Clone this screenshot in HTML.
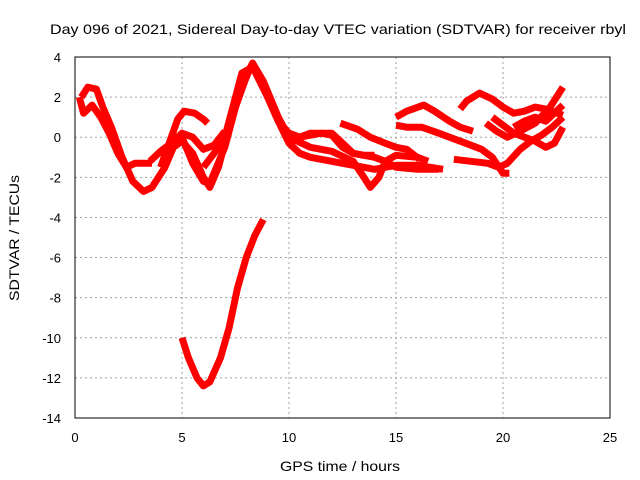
<!DOCTYPE html>
<html><head><meta charset="utf-8"><style>
body{margin:0;background:#fff;}
svg{display:block;font-family:"Liberation Sans",sans-serif;}
</style></head><body>
<svg id="chart" width="640" height="480">
<text x="338" y="34" font-size="14" text-anchor="middle" textLength="576" lengthAdjust="spacingAndGlyphs">Day 096 of 2021, Sidereal Day-to-day VTEC variation (SDTVAR) for receiver rbyl</text>
<text x="340" y="471" font-size="14" text-anchor="middle" textLength="120" lengthAdjust="spacingAndGlyphs">GPS time / hours</text>
<text transform="translate(19,238) rotate(-90)" font-size="14" text-anchor="middle" textLength="126" lengthAdjust="spacingAndGlyphs">SDTVAR / TECUs</text>
<g id="grid"></g><g id="series"></g>
<rect x="75" y="57" width="535" height="361" fill="none" stroke="#000" stroke-width="1"/>
</svg>
<script>
const xTicks=[0,5,10,15,20,25];
const yTicks=[4,2,0,-2,-4,-6,-8,-10,-12,-14];
const s1=[[0.3,2.0],[0.6,2.5],[1,2.4],[1.3,1.5],[1.7,0.5],[2.2,-1],[2.7,-2.2],[3.2,-2.7],[3.6,-2.5],[4.2,-1.5],[4.6,-0.5],[5,-0.2],[5.5,-0.8],[6,-2],[6.3,-2.5],[6.7,-1.5],[7.2,0.5],[7.7,2.2],[8.2,3.5],[8.5,3.2],[9,2],[9.5,0.8],[10,-0.3],[10.5,-0.8],[11,-1],[12,-1.2],[13,-1.4],[14,-1.6],[15,-1.4],[16,-1.4],[17.2,-1.6]];
const s2=[[0.2,2.0],[0.4,1.2],[0.8,1.6],[1.2,1.0],[1.6,0.2],[2,-0.8],[2.4,-1.5],[2.8,-1.3],[3.2,-1.3],[3.6,-1.3]];
const s3=[[3.5,-1.2],[4,-0.7],[4.5,-0.3],[5,0.2],[5.5,0],[6,-0.6],[6.5,-0.4],[7,0.3]];
const s4=[[4,-1.5],[4.5,0],[4.8,0.9],[5.1,1.3],[5.6,1.2],[6,0.9],[6.2,0.7]];
const s5=[[5,0],[5.5,-1.3],[6,-2.2],[6.3,-2.3],[7,-0.5],[7.5,1.5],[8,3],[8.3,3.7],[8.8,2.8],[9.5,1],[10,0],[11,-0.5],[12,-0.7],[13,-1.2],[13.5,-2],[13.8,-2.5],[14.2,-2],[14.5,-1.2],[15,-0.9],[16,-1],[16.5,-1.2]];
const s6=[[6,-1.5],[6.5,-0.8],[7,0],[7.5,2],[7.8,3.2],[8.3,3.5],[9,2],[9.5,0.8],[10,0.2],[10.5,0],[11,0.2],[12,0.2],[12.5,-0.3],[13,-0.8],[14,-1],[14.5,-1.2],[15,-1.5],[16,-1.6],[17,-1.6]];
const s7=[[12.4,0.7],[13.2,0.4],[13.8,0],[14.5,-0.3],[15,-0.5],[15.5,-0.6],[16.1,-1.1]];
const s8=[[10,-0.2],[10.5,0],[11,0.1],[11.5,0.2],[12,0.1],[12.5,-0.5],[13,-0.8],[13.5,-0.9],[14,-0.9]];
const s9=[[15,1.0],[15.5,1.3],[16.3,1.6],[16.8,1.3],[17.5,0.8],[18,0.5],[18.6,0.3]];
const s10=[[15,0.6],[15.5,0.5],[16.2,0.5],[17,0.2],[17.5,0],[18,-0.2],[18.5,-0.4],[19,-0.6],[19.5,-1],[20,-1.8],[20.3,-1.8]];
const s11=[[17.7,-1.1],[18.5,-1.2],[19.3,-1.3],[19.8,-1.5],[20.2,-1.3],[20.8,-0.6],[21.3,-0.2],[21.8,0.1],[22.3,0.5],[22.8,1.0]];
const s12=[[18,1.4],[18.3,1.8],[18.9,2.2],[19.5,1.9],[20,1.5],[20.5,1.2],[21,1.3],[21.5,1.5],[22,1.4],[22.8,1.1]];
const s13=[[19.2,0.7],[19.7,0.3],[20.2,0],[20.8,0.3],[21.5,0.7],[22.2,1.5],[22.8,2.5]];
const s14=[[19.5,1.0],[20,0.6],[20.5,0.2],[21,0],[21.5,-0.2],[22,-0.5],[22.4,-0.3],[22.8,0.5]];
const s15=[[20.5,0.5],[21,0.8],[21.5,1.0],[22,0.8],[22.8,1.6]];
const s16=[[5,-10],[5.3,-11],[5.7,-12],[6,-12.4],[6.3,-12.2],[6.8,-11],[7.2,-9.5],[7.6,-7.5],[8,-6],[8.4,-4.9],[8.8,-4.1]];
const allSeries=[s1,s2,s3,s4,s5,s6,s7,s8,s9,s10,s11,s12,s13,s14,s15,s16];
const NS="http://www.w3.org/2000/svg";
function xs(h){return 75+h*(535/25);}
function ys(v){return 57+(4-v)*(361/18);}
const grid=document.getElementById('grid');
xTicks.forEach(t=>{
  const x=xs(t);
  if(t>0&&t<25){const l=document.createElementNS(NS,'line');
  l.setAttribute('x1',x);l.setAttribute('x2',x);l.setAttribute('y1',57);l.setAttribute('y2',418);
  l.setAttribute('stroke','#a0a0a0');l.setAttribute('stroke-dasharray','2,3');
  
  
  grid.appendChild(l);}
  const tx=document.createElementNS(NS,'text');
  tx.setAttribute('x',x);tx.setAttribute('y',442);tx.setAttribute('font-size','13');tx.setAttribute('text-anchor','middle');
  tx.textContent=t;
  
  
  grid.appendChild(tx);
});
yTicks.forEach(t=>{
  const y=ys(t);
  if(t<4&&t>-14){const l=document.createElementNS(NS,'line');
  l.setAttribute('x1',75);l.setAttribute('x2',610);l.setAttribute('y1',y);l.setAttribute('y2',y);
  l.setAttribute('stroke','#a0a0a0');l.setAttribute('stroke-dasharray','2,3');
  
  
  grid.appendChild(l);}
  const tx=document.createElementNS(NS,'text');
  tx.setAttribute('x',61);tx.setAttribute('y',y+5);tx.setAttribute('font-size','13');tx.setAttribute('text-anchor','end');
  tx.textContent=t;
  
  
  grid.appendChild(tx);
});
const sg=document.getElementById('series');
allSeries.forEach((s,i)=>{
  const p=document.createElementNS(NS,'polyline');
  p.setAttribute('points',s.map(d=>xs(d[0]).toFixed(1)+','+ys(d[1]).toFixed(1)).join(' '));
  p.setAttribute('fill','none');p.setAttribute('stroke','#ff0000');p.setAttribute('stroke-width','7');
  p.setAttribute('stroke-linejoin','round');
  
  
  sg.appendChild(p);
});
</script>
</body></html>
